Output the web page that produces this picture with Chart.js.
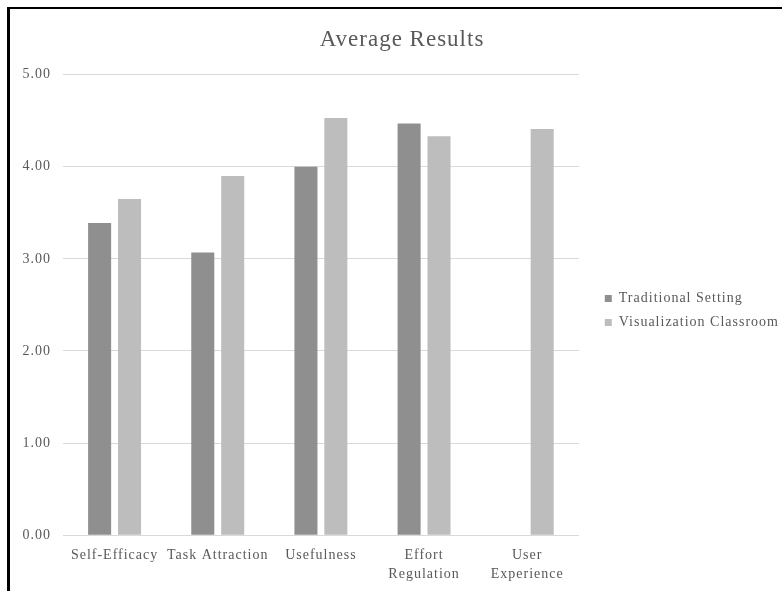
<!DOCTYPE html>
<html>
<head>
<meta charset="utf-8">
<script src="https://cdn.jsdelivr.net/npm/chart.js@4/dist/chart.umd.min.js"></script>
<style>
  html, body { margin: 0; padding: 0; background: #ffffff; }
  #wrap { position: relative; width: 782px; height: 591px; overflow: hidden; }
  #frame {
    position: absolute; left: 7px; top: 7px; width: 800px; height: 700px;
    border-left: 3px solid #000; border-top: 2px solid #000; box-sizing: border-box;
  }
  canvas { position: absolute; left: 0; top: 0; }
</style>
</head>
<body>
<div id="wrap">
  <div id="frame"></div>
  <canvas id="chart" width="782" height="591"></canvas>
</div>
<script>
// Survey scale averages for each construct
const categories = [
  'Self-Efficacy',
  'Task Attraction',
  'Usefulness',
  ['Effort', 'Regulation'],
  ['User', 'Experience']
];
const traditionalSetting = [3.39, 3.07, 4.00, 4.47, null];
const visualizationClassroom = [3.65, 3.90, 4.53, 4.33, 4.41];
const yTicks = [0, 1, 2, 3, 4, 5];

const serif = '"Liberation Serif", "Times New Roman", serif';
const textGrey = '#595959';

// Slightly spaced-out lettering for all chart text
const letterSpacingPlugin = {
  id: 'letterSpacing',
  beforeUpdate(chart) { chart.ctx.letterSpacing = '1px'; },
  beforeDraw(chart) { chart.ctx.letterSpacing = '1px'; }
};

new Chart(document.getElementById('chart'), {
  type: 'bar',
  plugins: [letterSpacingPlugin],
  data: {
    labels: categories,
    datasets: [
      {
        label: 'Traditional Setting',
        data: traditionalSetting,
        backgroundColor: '#8f8f8f',
        categoryPercentage: 0.58,
        barPercentage: 0.77
      },
      {
        label: 'Visualization Classroom',
        data: visualizationClassroom,
        backgroundColor: '#bdbdbd',
        categoryPercentage: 0.58,
        barPercentage: 0.77
      }
    ]
  },
  options: {
    responsive: false,
    animation: false,
    layout: { padding: { left: 15, right: -7, top: 18, bottom: -4 } },
    plugins: {
      title: {
        display: true,
        text: 'Average Results',
        color: textGrey,
        font: { family: serif, size: 23, weight: 'normal' },
        padding: { top: 8, bottom: 21 }
      },
      legend: {
        position: 'right',
        align: 'center',
        maxWidth: 300,
        // blank title just nudges the entries a little lower
        title: {
          display: true,
          text: ' ',
          font: { size: 1 },
          padding: { top: 4, bottom: 3 }
        },
        labels: {
          color: textGrey,
          font: { family: serif, size: 14 },
          boxWidth: 7,
          boxHeight: 7,
          padding: 10
        }
      },
      tooltip: { enabled: false }
    },
    scales: {
      x: {
        grid: { display: false, drawTicks: false },
        border: { color: '#d9d9d9', width: 1 },
        ticks: {
          color: textGrey,
          font: { family: serif, size: 14, lineHeight: 1.35 },
          maxRotation: 0,
          autoSkip: false,
          padding: 11
        }
      },
      y: {
        min: 0,
        max: 5,
        afterBuildTicks: axis => { axis.ticks = yTicks.map(v => ({ value: v })); },
        afterFit: axis => { axis.width = 48; },
        grid: { color: '#d9d9d9', drawTicks: false },
        border: { display: false },
        ticks: {
          color: textGrey,
          font: { family: serif, size: 14 },
          padding: 12,
          callback: v => Number(v).toFixed(2)
        }
      },
      // empty spacer between the plot and the legend
      gap: {
        position: 'right',
        display: true,
        grid: { display: false, drawTicks: false },
        border: { display: false },
        ticks: { display: false },
        afterFit: axis => { axis.width = 16; }
      }
    }
  }
});
</script>
</body>
</html>
